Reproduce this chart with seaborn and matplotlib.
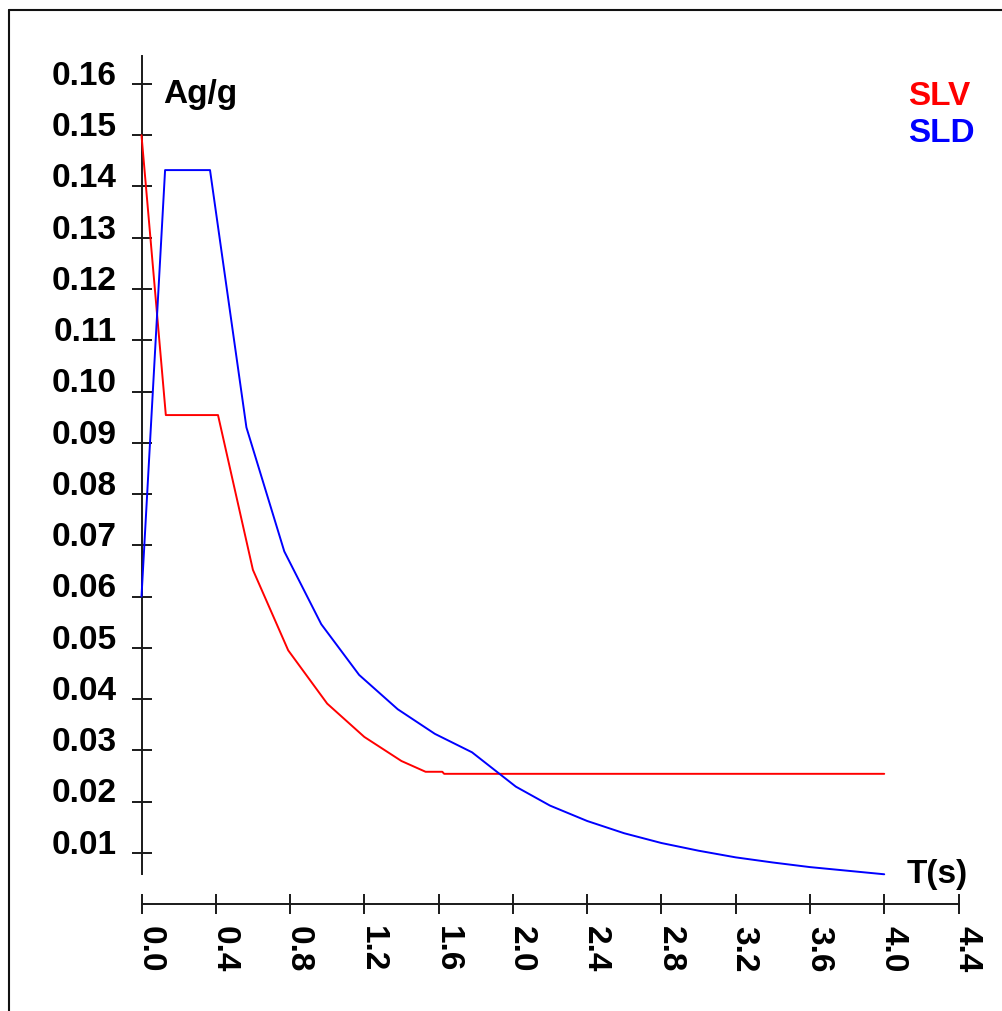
import numpy as np
import pandas as pd
import matplotlib
matplotlib.use("Agg")
import matplotlib.pyplot as plt
import seaborn as sns
from matplotlib.lines import Line2D

# ---- data ----
t_slv = [0.0, 0.131, 0.412, 0.60, 0.79, 1.00, 1.20, 1.40, 1.53, 1.62, 1.63, 4.00]
a_slv = [0.1500, 0.0954, 0.0954, 0.0652, 0.0495, 0.0391, 0.0326, 0.0279,
         0.0258, 0.0258, 0.0254, 0.0254]

t_sld = [0.0, 0.127, 0.369, 0.565, 0.769, 0.968, 1.172, 1.38, 1.58, 1.78,
         2.016, 2.2, 2.4, 2.6, 2.8, 3.0, 3.2, 3.4, 3.6, 3.8, 4.0]
a_sld = [0.0600, 0.1432, 0.1432, 0.0930, 0.0688, 0.0546, 0.0447, 0.0380,
         0.0332, 0.0296, 0.0229, 0.0192, 0.0162, 0.0138, 0.0119, 0.0104,
         0.0091, 0.0081, 0.0072, 0.0065, 0.0058]

x_ticks = [0.0, 0.4, 0.8, 1.2, 1.6, 2.0, 2.4, 2.8, 3.2, 3.6, 4.0, 4.4]
x_labels = ["0.0", "0.4", "0.8", "1.2", "1.6", "2.0", "2.4", "2.8", "3.2", "3.6", "4.0", "4.4"]
y_ticks = [0.01, 0.02, 0.03, 0.04, 0.05, 0.06, 0.07, 0.08, 0.09, 0.10,
           0.11, 0.12, 0.13, 0.14, 0.15, 0.16]
y_labels = ["0.01", "0.02", "0.03", "0.04", "0.05", "0.06", "0.07", "0.08",
            "0.09", "0.10", "0.11", "0.12", "0.13", "0.14", "0.15", "0.16"]

series_names = ["SLV", "SLD"]
series_colors = ["#ff0000", "#0000ff"]

df = pd.concat([
    pd.DataFrame({"T": t_slv, "A": a_slv, "s": "SLV"}),
    pd.DataFrame({"T": t_sld, "A": a_sld, "s": "SLD"}),
], ignore_index=True)

sns.set_style("white")
plt.rcParams["font.family"] = ["Liberation Sans", "DejaVu Sans"]
plt.rcParams["font.weight"] = "bold"
plt.rcParams["text.color"] = "black"

W, H = 1002, 1012
fig = plt.figure(figsize=(W / 100, H / 100), dpi=100)
ax = fig.add_axes([0, 0, 1, 1])
ax.set_facecolor("white")

# pixel mapping: x=0 -> 141.5px, x=4.4 -> 958.5px ; y=0 -> 905px, y=0.16 -> 85px
sx = (958.5 - 141.5) / 4.4
sy = (905 - 85) / 0.16
ax.set_xlim(-141.5 / sx, (W - 141.5) / sx)
ax.set_ylim(-(H - 905) / sy, 905 / sy)

sns.lineplot(data=df, x="T", y="A", hue="s", hue_order=series_names,
             palette=series_colors, estimator=None, sort=False,
             linewidth=1.4, legend=False, ax=ax, zorder=3)

ax.set_xlabel("")
ax.set_ylabel("")

for sp in ["top", "right"]:
    ax.spines[sp].set_visible(False)
ax.spines["left"].set_position(("data", 0))
ax.spines["bottom"].set_position(("data", 0))
ax.spines["left"].set_bounds(0.00585, 0.1655)
ax.spines["bottom"].set_bounds(0, 4.4)
for sp in ["left", "bottom"]:
    ax.spines[sp].set_linewidth(1.4)
    ax.spines[sp].set_color("#1a1a1a")

ax.set_xticks(x_ticks)
ax.set_xticklabels(x_labels)
ax.set_yticks(y_ticks)
ax.set_yticklabels(y_labels)
ax.tick_params(axis="both", direction="inout", length=15, width=1.4,
               color="#1a1a1a", labelsize=24, labelcolor="black",
               bottom=True, left=True, top=False, right=False)
ax.tick_params(axis="y", pad=10.5)
ax.tick_params(axis="x", pad=7.5)
for lab in ax.get_yticklabels():
    lab.set_va("baseline")
    lab.set_fontweight("bold")
for lab in ax.get_xticklabels():
    lab.set_rotation(-90)
    lab.set_rotation_mode("anchor")
    lab.set_ha("left")
    lab.set_va("baseline")
    lab.set_fontweight("bold")

def px(xp, yp):
    return (xp - 141.5) / sx, (905 - yp) / sy

ax.text(*px(163, 103), "Ag/g", fontsize=24, fontweight="bold", color="black",
        ha="left", va="baseline")
ax.text(*px(907, 883), "T(s)", fontsize=24, fontweight="bold", color="black",
        ha="left", va="baseline")
ax.text(*px(908, 105), series_names[0], fontsize=24, fontweight="bold",
        color=series_colors[0], ha="left", va="baseline")
ax.text(*px(908, 142), series_names[1], fontsize=24, fontweight="bold",
        color=series_colors[1], ha="left", va="baseline")

# frame lines (top and left) of the picture
fy = 1 - 11 / H
fx = 9 / W
fig.add_artist(Line2D([fx, 1], [fy, fy], color="#111111", linewidth=1.5))
fig.add_artist(Line2D([fx, fx], [0, fy], color="#111111", linewidth=1.5))

fig.savefig("out.png", dpi=100, facecolor="white")
